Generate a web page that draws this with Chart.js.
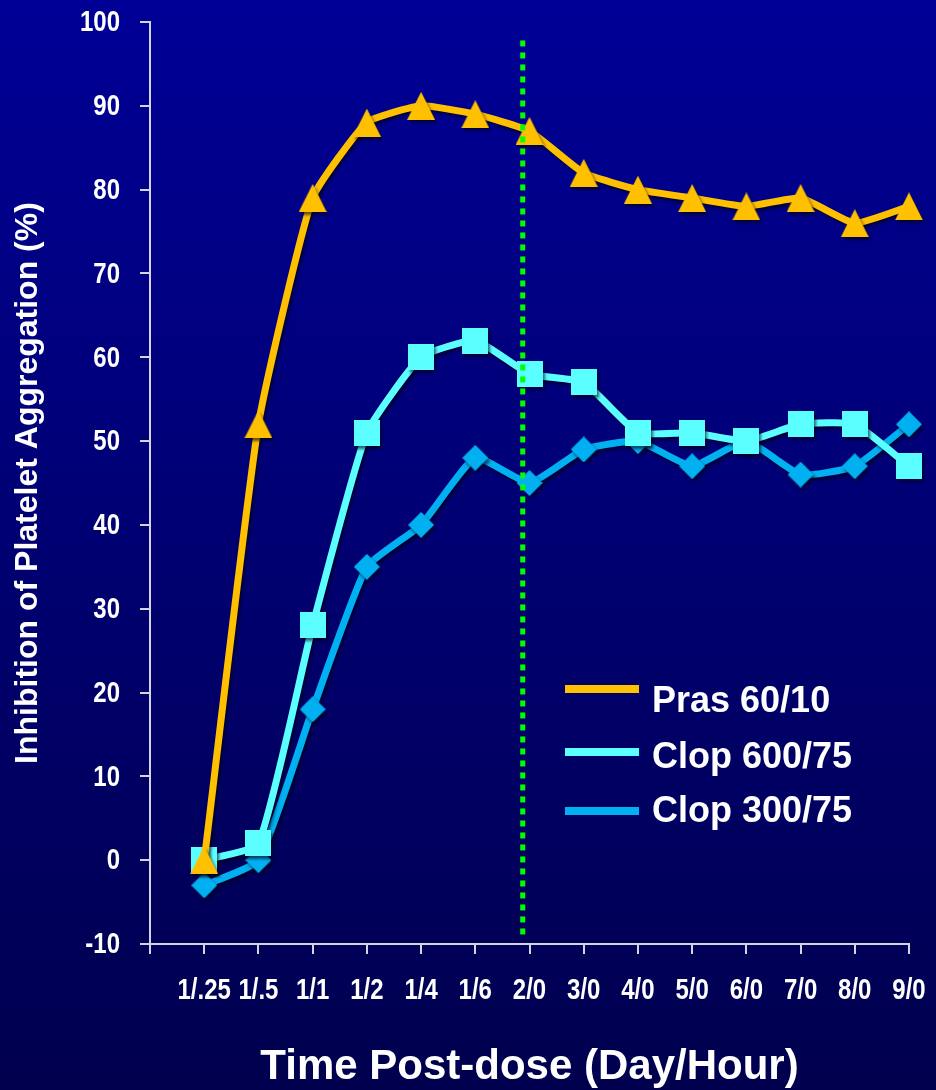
<!DOCTYPE html>
<html>
<head>
<meta charset="utf-8">
<script src="https://cdn.jsdelivr.net/npm/chart.js@4.4.0/dist/chart.umd.min.js"></script>
<style>
  html, body { margin: 0; padding: 0; }
  body { width: 936px; height: 1090px; overflow: hidden; background: linear-gradient(#000096, #00004e); }
</style>
</head>
<body>
<canvas id="ipaChart" width="936" height="1090"></canvas>
<script>
const timePoints = ["1/.25", "1/.5", "1/1", "1/2", "1/4", "1/6", "2/0", "3/0", "4/0", "5/0", "6/0", "7/0", "8/0", "9/0"];
const pras60 = [0, 52, 79, 88, 90, 89, 87, 82, 80, 79, 78, 79, 76, 78];
const clop600 = [0, 2, 28, 51, 60, 62, 58, 57, 51, 51, 50, 52, 52, 47];
const clop300 = [-3, 0, 18, 35, 40, 48, 45, 49, 50, 47, 50, 46, 47, 52];
const seriesNames = ["Pras 60/10", "Clop 600/75", "Clop 300/75"];
const seriesColors = ["#ffc000", "#5cffff", "#00b0f0"];
const yMin = -10, yMax = 100, yStep = 10;
// dotted divider between the loading day and the maintenance days
const dividerX = 5.875;
const dividerSpan = [97.8, -9.5];

const toPoints = arr => arr.map((v, i) => ({ x: i, y: v }));

const titleFamily = '"Liberation Sans", Arial, sans-serif';
const axisColor = '#d4d4e4';

// marker sprites, centred on their bounding box
const makeMarker = (w, h, color, path) => {
  const c = document.createElement('canvas');
  c.width = w;
  c.height = h;
  const g = c.getContext('2d');
  g.fillStyle = color;
  g.beginPath();
  path(g, w, h);
  g.closePath();
  g.fill();
  return c;
};
const triangleMark = makeMarker(28, 28, seriesColors[0], (g, w, h) => {
  g.moveTo(w / 2, 0); g.lineTo(w, h); g.lineTo(0, h);
});
const squareMark = makeMarker(26, 26, seriesColors[1], (g, w, h) => g.rect(0, 0, w, h));
const diamondMark = makeMarker(26, 26, seriesColors[2], (g, w, h) => {
  g.moveTo(w / 2, 0); g.lineTo(w, h / 2); g.lineTo(w / 2, h); g.lineTo(0, h / 2);
});

const seriesLine = (i, data, marker) => ({
  label: seriesNames[i],
  data: toPoints(data),
  order: i + 1,
  borderColor: seriesColors[i],
  backgroundColor: seriesColors[i],
  borderWidth: 7,
  tension: 0.15,
  pointStyle: marker,
  pointRadius: 13,
  pointBorderWidth: 0,
  clip: false
});

// soft drop shadow under the series lines and markers
const shadowPlugin = {
  id: 'shadow',
  beforeDatasetDraw(chart, args) {
    const ctx = chart.ctx;
    ctx.save();
    if (args.index > 0) {
      ctx.shadowColor = 'rgba(0, 0, 20, 0.6)';
      ctx.shadowBlur = 3;
      ctx.shadowOffsetX = 2;
      ctx.shadowOffsetY = 3;
    }
  },
  afterDatasetDraw(chart) {
    chart.ctx.restore();
  }
};

// tick labels in a squeezed bold face (no narrow font installed)
const narrowTicksPlugin = {
  id: 'narrowTicks',
  afterDraw(chart) {
    const { ctx, scales: { x, y } } = chart;
    const squeeze = 0.8;
    const put = (text, px, py, align) => {
      ctx.save();
      ctx.translate(px, py);
      ctx.scale(squeeze, 1);
      ctx.textAlign = align;
      ctx.fillText(text, 0, 0);
      ctx.restore();
    };
    ctx.save();
    ctx.font = 'bold 30px ' + titleFamily;
    ctx.fillStyle = '#ffffff';
    ctx.textBaseline = 'middle';
    x.ticks.forEach(t => {
      const label = timePoints[t.value];
      if (label !== undefined) put(label, x.getPixelForValue(t.value), x.top + 47, 'center');
    });
    y.ticks.forEach(t => {
      put(String(t.value), y.right - 30, y.getPixelForValue(t.value) + 1, 'right');
    });
    ctx.restore();
  }
};

// key drawn inside the plot, lower right
const keyPlugin = {
  id: 'seriesKey',
  afterDraw(chart) {
    const ctx = chart.ctx;
    const lineY = [689, 752, 811];
    const textY = [702, 758, 812];
    ctx.save();
    ctx.font = 'bold 36px ' + titleFamily;
    ctx.textBaseline = 'middle';
    seriesNames.forEach((name, i) => {
      ctx.fillStyle = seriesColors[i];
      ctx.fillRect(565, lineY[i] - 4, 74, 8);
      ctx.fillStyle = '#ffffff';
      ctx.fillText(name, 652, textY[i]);
    });
    ctx.restore();
  }
};

new Chart(document.getElementById('ipaChart'), {
  type: 'line',
  data: {
    datasets: [
      {
        label: 'divider',
        data: [{ x: dividerX, y: dividerSpan[0] }, { x: dividerX, y: dividerSpan[1] }],
        order: 0,
        borderColor: '#00ff00',
        borderWidth: 5,
        borderDash: [6, 6],
        pointRadius: 0,
        clip: false
      },
      seriesLine(0, pras60, triangleMark),
      seriesLine(1, clop600, squareMark),
      seriesLine(2, clop300, diamondMark)
    ]
  },
  options: {
    responsive: false,
    animation: false,
    layout: { padding: { top: 22, right: 27, left: 0, bottom: 0 } },
    plugins: { legend: { display: false }, tooltip: { enabled: false } },
    scales: {
      x: {
        type: 'linear',
        min: -1,
        max: timePoints.length - 1,
        afterFit: s => { s.height = 146; },
        ticks: { stepSize: 1, autoSkip: false, maxRotation: 0, display: false },
        grid: { drawOnChartArea: false, drawTicks: true, tickLength: 10, color: axisColor, lineWidth: 2 },
        border: { color: axisColor, width: 2 },
        title: {
          display: true,
          text: 'Time Post-dose (Day/Hour)',
          color: '#ffffff',
          font: { family: titleFamily, size: 42, weight: 'bold', lineHeight: 1.1 },
          padding: { top: 0, bottom: -1 }
        }
      },
      y: {
        min: yMin,
        max: yMax,
        afterFit: s => { s.width = 150; },
        ticks: { stepSize: yStep, display: false },
        grid: { drawOnChartArea: false, drawTicks: true, tickLength: 10, color: axisColor, lineWidth: 2 },
        border: { color: axisColor, width: 2 },
        title: {
          display: true,
          text: 'Inhibition of Platelet Aggregation (%)',
          color: '#ffffff',
          font: { family: titleFamily, size: 32, weight: 'bold', lineHeight: 1.2 },
          padding: { top: 9, bottom: 0 }
        }
      }
    }
  },
  plugins: [shadowPlugin, narrowTicksPlugin, keyPlugin]
});
</script>
</body>
</html>
